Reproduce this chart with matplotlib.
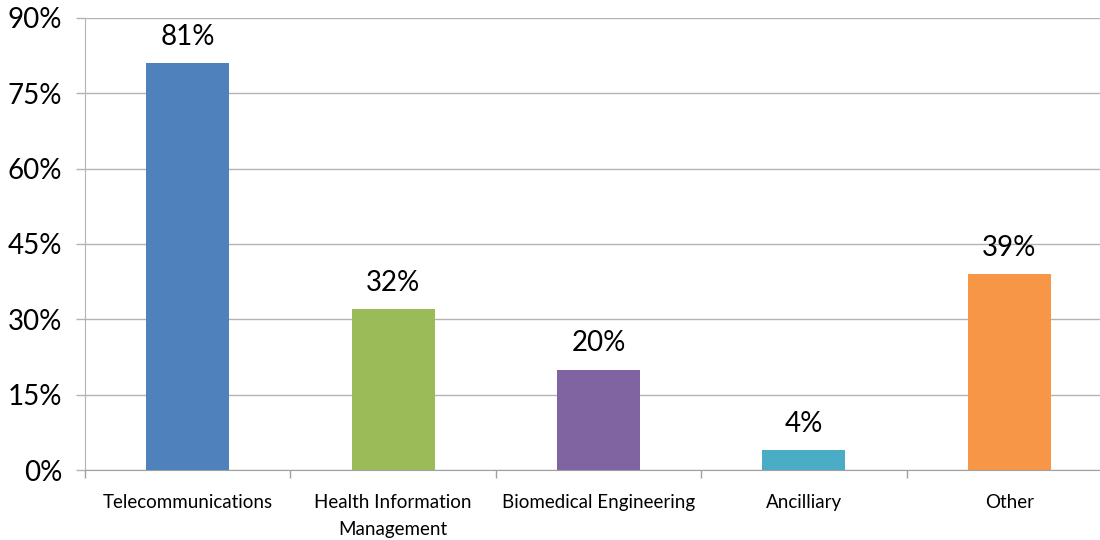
import matplotlib
matplotlib.use("Agg")
import matplotlib.pyplot as plt
from matplotlib.ticker import FixedLocator, FuncFormatter

categories = ["Telecommunications", "Health Information\nManagement", "Biomedical Engineering", "Ancilliary", "Other"]
values = [81, 32, 20, 4, 39]
colors = ["#4F81BD", "#9BBB59", "#8064A2", "#4BACC6", "#F79646"]
yticks = [0, 15, 30, 45, 60, 75, 90]

plt.rcParams['font.family'] = ['Lato', 'DejaVu Sans']

fig = plt.figure(figsize=(11, 5.4), dpi=100)
ax = fig.add_axes([0.0773, 0.1296, 0.9336, 0.8371])

x = list(range(len(categories)))
bars = ax.bar(x, values, width=0.405, color=colors, zorder=3)
for xi, v in zip(x, values):
    ax.annotate(f"{v}%", (xi, v), xytext=(0, 9.5), textcoords="offset points",
                ha="center", va="bottom", fontsize=20, color="#000000")

ax.set_xlim(-0.5, len(categories) - 0.5)
ax.set_ylim(0, 90)
ax.set_yticks(yticks)
ax.yaxis.set_major_formatter(FuncFormatter(lambda v, p: f"{int(v)}%"))
ax.tick_params(axis='y', labelsize=20, length=6.5, color="#b3b3b3", width=1, pad=10)
ax.yaxis.grid(True, color="#b3b3b3", linewidth=1, zorder=0)

ax.set_xticks(x)
ax.set_xticklabels(categories, fontsize=13.5, linespacing=1.75)
ax.tick_params(axis='x', length=0, pad=17)
ax.xaxis.set_minor_locator(FixedLocator([i - 0.5 for i in range(len(categories) + 1)]))
ax.tick_params(axis='x', which='minor', length=6, color="#a0a0a0", width=1)

for s in ["top", "right"]:
    ax.spines[s].set_visible(False)
ax.spines["left"].set_color("#b3b3b3")
ax.spines["bottom"].set_color("#a0a0a0")

fig.savefig("out.png", dpi=100)
